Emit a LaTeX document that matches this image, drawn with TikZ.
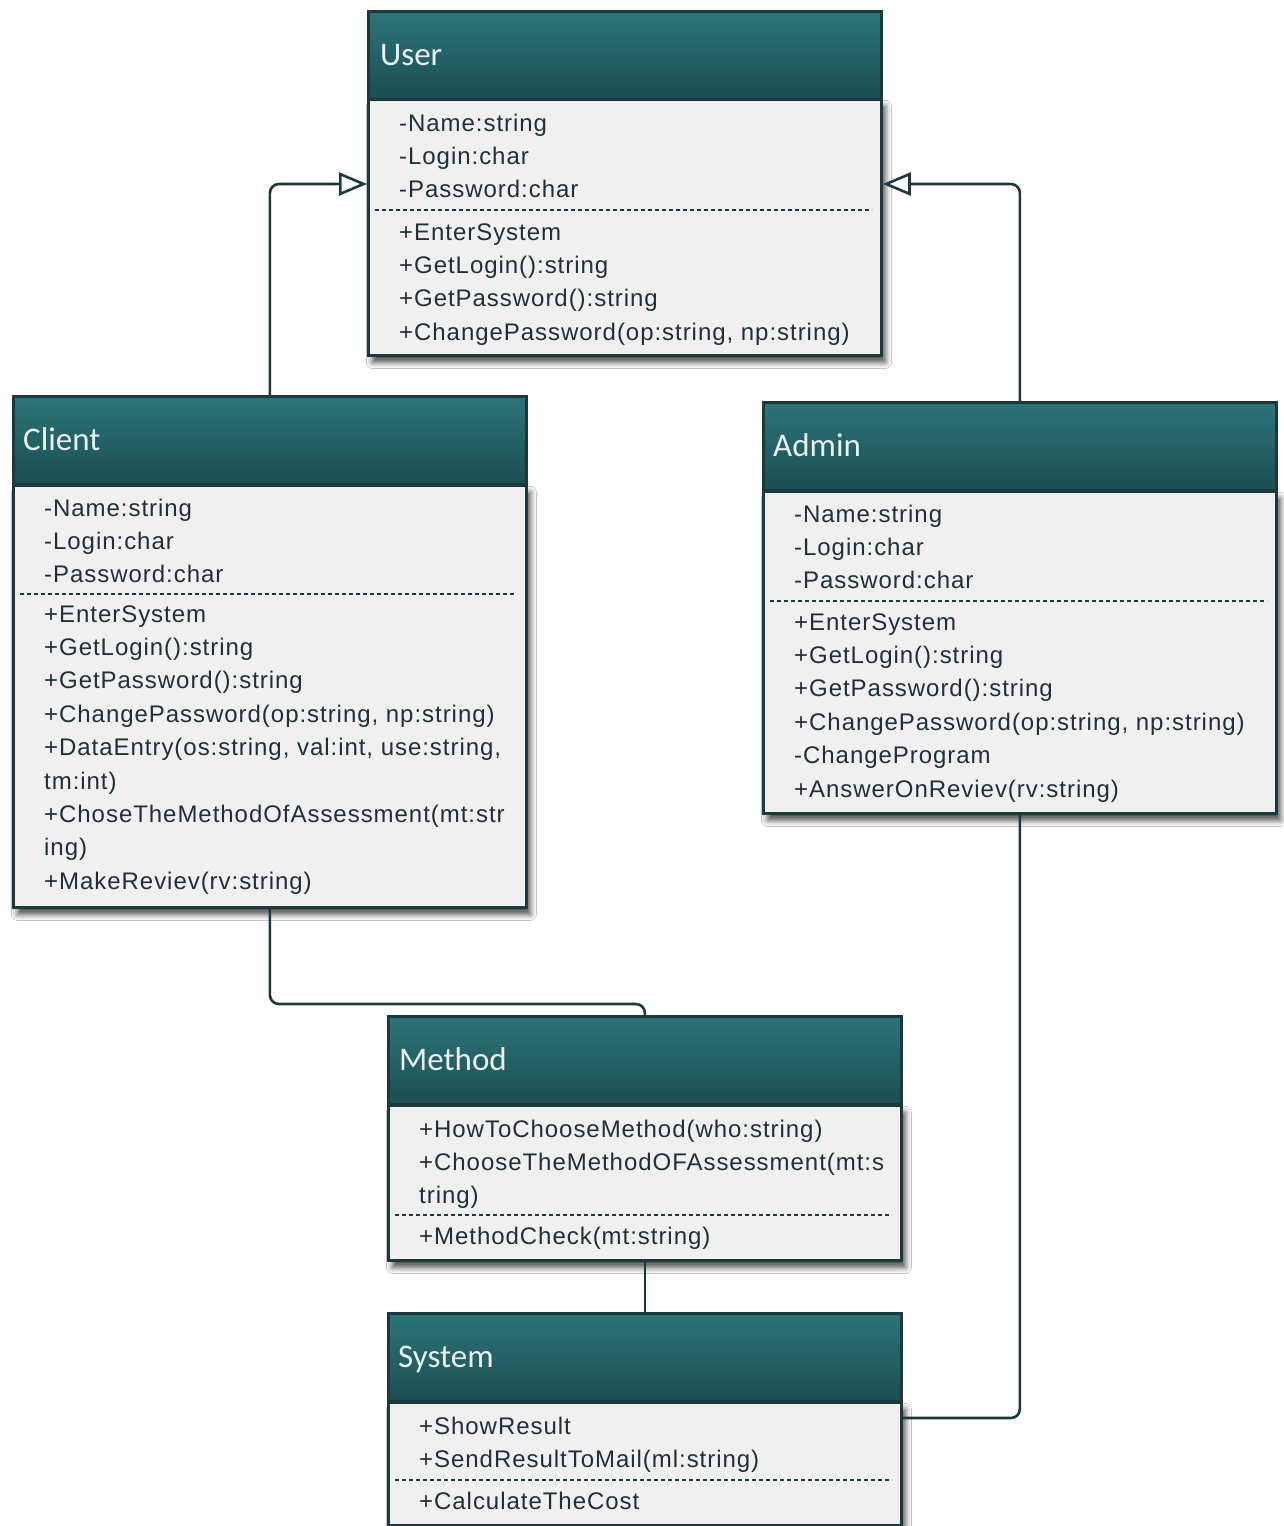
\documentclass[tikz,border=0pt]{standalone}
\usepackage{fontspec}
\setmainfont{Liberation Sans}
\newfontfamily\itemfont[LetterSpace=4]{Liberation Sans}
\newfontfamily\titlefont{Carlito}
\usetikzlibrary{arrows.meta,shadows.blur,calc}

\definecolor{tealtop}{RGB}{45,116,121}
\definecolor{tealbot}{RGB}{26,78,82}
\definecolor{edge}{RGB}{28,58,62}
\definecolor{bodyfill}{RGB}{240,240,240}
\definecolor{ink}{RGB}{32,48,51}
\definecolor{titleink}{RGB}{232,240,240}

% one text row per list entry, 33.4pt apart
\newcommand\umlrows[4]{%
  \foreach \t [count=\i from 0] in {#4}
    \node[item] (#1\i) at ({#2},{#3+\i*33.4}) {\t};}

\begin{document}
\begin{tikzpicture}[x=1pt,y=-1pt,
  classhead/.style={draw=edge, line width=2.8pt, top color=tealtop, bottom color=tealbot,
    minimum width=513pt, minimum height=88pt, anchor=north west, inner sep=0pt},
  classbody/.style={draw=edge, line width=2.8pt, fill=bodyfill, anchor=north west,
    inner sep=0pt, minimum width=513pt,
    blur shadow={shadow xshift=4pt, shadow yshift=-7pt, shadow blur radius=6pt, shadow opacity=70}},
  title/.style={anchor=base west, inner sep=0pt, text=titleink,
    font=\titlefont\fontsize{33}{33}\selectfont},
  item/.style={anchor=base west, inner sep=0pt, text=ink,
    font=\itemfont\fontsize{24}{24}\selectfont},
  sep/.style={draw=edge, line width=2pt, dash pattern=on 4pt off 3pt},
  conn/.style={draw=edge, line width=2.6pt, rounded corners=9pt},
  inherit/.style={-{Triangle[open, length=28pt, width=23pt, fill=white]}}
]
\useasboundingbox (0,0) rectangle (1283,1526);
\fill[white] (0,0) rectangle (1283,1526);

% ---------- User ----------
\node[classbody, minimum height=256pt] (userB) at (367,98) {};
\node[classhead] (userH) at (367,10) {};
\node[title] (userT) at (380,65) {User};
\umlrows{userA}{399}{131}{{-Name:string},{-Login:char},{-Password:char}}
\draw[sep] (375,210) -- (872,210);
\umlrows{userO}{399}{240}{{+EnterSystem},{+GetLogin():string},{+GetPassword():string},{+ChangePassword(op:string, np:string)}}

% ---------- Client ----------
\node[classbody, minimum height=422pt] (clientB) at (12,484) {};
\node[classhead] (clientH) at (12,395) {};
\node[title] (clientT) at (23,450) {Client};
\umlrows{clientA}{44}{516}{{-Name:string},{-Login:char},{-Password:char}}
\draw[sep] (20,594) -- (517,594);
\umlrows{clientO}{44}{622}{{+EnterSystem},{+GetLogin():string},{+GetPassword():string},{+ChangePassword(op:string, np:string)},{+DataEntry(os:string, val:int, use:string,},{tm:int)},{+ChoseTheMethodOfAssessment(mt:str},{ing)},{+MakeReviev(rv:string)}}

% ---------- Admin ----------
\node[classbody, minimum height=322pt] (adminB) at (762,490) {};
\node[classhead] (adminH) at (762,401) {};
\node[title] (adminT) at (773,456) {Admin};
\umlrows{adminA}{794}{522}{{-Name:string},{-Login:char},{-Password:char}}
\draw[sep] (770,601) -- (1267,601);
\umlrows{adminO}{794}{630}{{+EnterSystem},{+GetLogin():string},{+GetPassword():string},{+ChangePassword(op:string, np:string)},{-ChangeProgram},{+AnswerOnReviev(rv:string)}}

% ---------- Method ----------
\node[classbody, minimum height=155pt] (methodB) at (387,1104) {};
\node[classhead] (methodH) at (387,1015) {};
\node[title] (methodT) at (399,1070) {Method};
\umlrows{methodA}{419}{1137}{{+HowToChooseMethod(who:string)},{+ChooseTheMethodOFAssessment(mt:s},{tring)}}
\draw[sep] (395,1215) -- (892,1215);
\umlrows{methodO}{419}{1244}{{+MethodCheck(mt:string)}}

% ---------- System ----------
\node[classbody, minimum height=123pt] (sysB) at (387,1401) {};
\node[classhead] (sysH) at (387,1312) {};
\node[title] (sysT) at (398,1367) {System};
\umlrows{sysA}{419}{1434}{{+ShowResult},{+SendResultToMail(ml:string)}}
\draw[sep] (395,1480) -- (892,1480);
\umlrows{sysO}{419}{1509}{{+CalculateTheCost}}

% ---------- connectors ----------
\path (userB.north west) ++(0,86) coordinate (userInL);
\path (userB.north east) ++(0,86) coordinate (userInR);
\path (sysB.north east) ++(0,17) coordinate (sysIn);
\path (methodH.north) ++(0,-11) coordinate (methodTurn);

\draw[conn, inherit] (clientH.north) |- (userInL);
\draw[conn, inherit] (adminH.north) |- (userInR);
\draw[conn] (clientB.south) |- (methodTurn) -- (methodH.north);
\draw[conn] (methodB.south) -- (sysH.north);
\draw[conn] (adminB.south) |- (sysIn);
\end{tikzpicture}
\end{document}
